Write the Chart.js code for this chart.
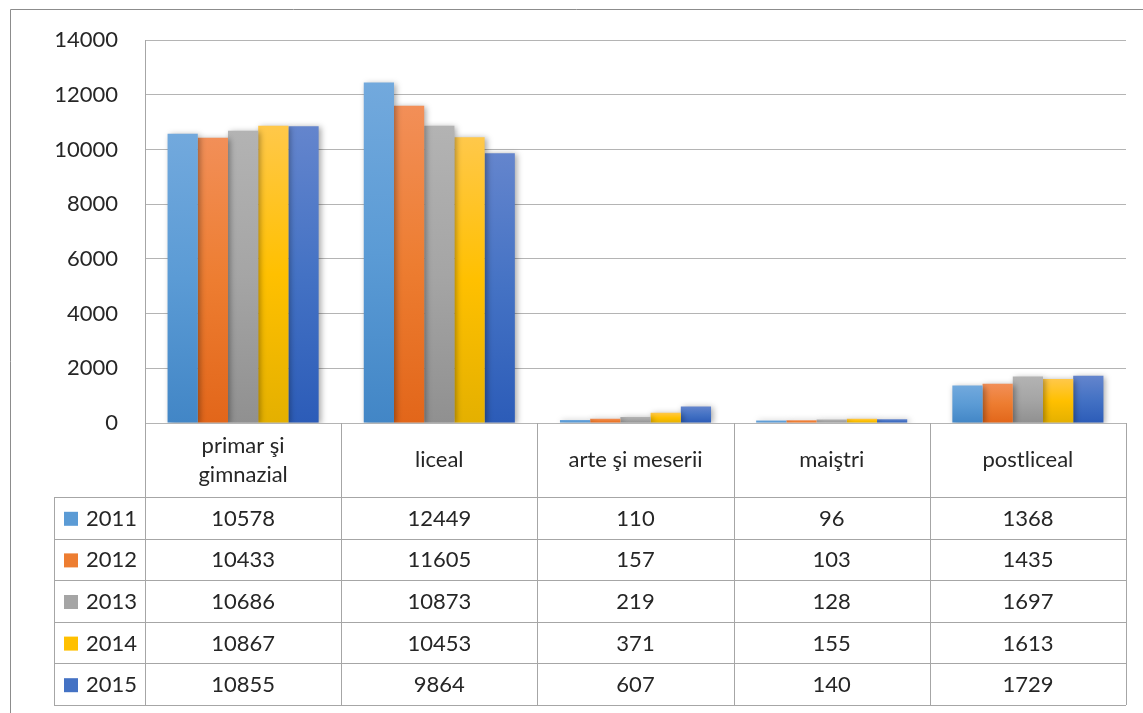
<!DOCTYPE html>
<html>
<head>
<meta charset="utf-8">
<script src="https://cdn.jsdelivr.net/npm/chart.js@4.4.1/dist/chart.umd.min.js"></script>
<style>
  html, body { margin: 0; padding: 0; background: #fff; }
  #wrap { position: relative; width: 1143px; height: 713px; }
</style>
</head>
<body>
<div id="wrap"><canvas id="chart" width="1143" height="713"></canvas></div>
<script>
// Data
const categories = [['primar şi', 'gimnazial'], 'liceal', 'arte şi meserii', 'maiştri', 'postliceal'];
const years = ['2011', '2012', '2013', '2014', '2015'];
const v2011 = [10578, 12449, 110, 96, 1368];
const v2012 = [10433, 11605, 157, 103, 1435];
const v2013 = [10686, 10873, 219, 128, 1697];
const v2014 = [10867, 10453, 371, 155, 1613];
const v2015 = [10855, 9864, 607, 140, 1729];
const yMax = 14000;
const yStep = 2000;

// top / mid / bottom shades per series
const shades = [
  ['#72a9dd', '#5b9bd5', '#4286c6'],
  ['#f28f58', '#ed7d31', '#e2661a'],
  ['#b3b3b3', '#a5a5a5', '#909090'],
  ['#ffc84a', '#ffc000', '#e4b000'],
  ['#6485cd', '#4472c4', '#2c5cb8']
];
const FONT = 'Lato, "Open Sans", sans-serif';
const TEXT = '#262626';
const GRID = '#b4b4b4';

function barFill(i) {
  return (c) => {
    const chart = c.chart;
    if (!chart.chartArea || c.parsed == null) return shades[i][1];
    const yScale = chart.scales.y;
    const top = yScale.getPixelForValue(c.parsed.y);
    const bottom = yScale.getPixelForValue(0);
    const g = chart.ctx.createLinearGradient(0, top, 0, Math.max(bottom, top + 1));
    g.addColorStop(0, shades[i][0]);
    g.addColorStop(0.5, shades[i][1]);
    g.addColorStop(1, shades[i][2]);
    return g;
  };
}

const seriesValues = [v2011, v2012, v2013, v2014, v2015];

// soft drop shadow behind the bars
const shadowPlugin = {
  id: 'barShadow',
  beforeDatasetsDraw(chart) {
    const ctx = chart.ctx;
    ctx.save();
    ctx.shadowColor = 'rgba(0,0,0,0.35)';
    ctx.shadowBlur = 6;
    ctx.shadowOffsetX = 2;
    ctx.shadowOffsetY = 1;
  },
  afterDatasetsDraw(chart) {
    chart.ctx.restore();
  }
};

// outer frame + data table under the plot
const tablePlugin = {
  id: 'dataTable',
  afterDraw(chart) {
    const ctx = chart.ctx;
    const x = chart.scales.x;
    const area = chart.chartArea;
    const colW = x.width / categories.length;
    const headerTop = area.bottom;
    const headerH = 74;
    const rowH = 41.6;
    const rowsTop = headerTop + headerH;
    const legendLeft = 54;

    ctx.save();
    // outer chart frame
    ctx.strokeStyle = '#8c8c8c';
    ctx.lineWidth = 1;
    ctx.beginPath();
    ctx.moveTo(10.5, 713);
    ctx.lineTo(10.5, 9.5);
    ctx.lineTo(1143, 9.5);
    ctx.stroke();

    ctx.strokeStyle = '#a6a6a6';
    ctx.lineWidth = 1;
    // vertical lines
    for (let i = 0; i <= categories.length; i++) {
      const px = Math.round(area.left + i * colW) + 0.5;
      ctx.beginPath();
      ctx.moveTo(px, headerTop);
      ctx.lineTo(px, rowsTop + rowH * years.length);
      ctx.stroke();
    }
    ctx.beginPath();
    ctx.moveTo(legendLeft + 0.5, rowsTop);
    ctx.lineTo(legendLeft + 0.5, rowsTop + rowH * years.length);
    ctx.stroke();
    // horizontal lines
    for (let r = 0; r <= years.length; r++) {
      const py = Math.round(rowsTop + r * rowH) + 0.5;
      ctx.beginPath();
      ctx.moveTo(legendLeft, py);
      ctx.lineTo(area.right, py);
      ctx.stroke();
    }

    ctx.fillStyle = TEXT;
    ctx.font = '22px ' + FONT;
    ctx.textAlign = 'center';
    ctx.textBaseline = 'middle';
    // header labels
    categories.forEach((lab, i) => {
      const cx = x.getPixelForValue(i);
      const lines = Array.isArray(lab) ? lab : [lab];
      const lh = 29;
      const cy = headerTop + headerH / 2;
      lines.forEach((t, k) => {
        ctx.fillText(t, cx, cy + (k - (lines.length - 1) / 2) * lh);
      });
    });
    // rows
    years.forEach((yr, r) => {
      const cy = rowsTop + r * rowH + rowH / 2 + 1;
      ctx.fillStyle = shades[r][1];
      ctx.fillRect(legendLeft + 10, cy - 7, 14, 14);
      ctx.fillStyle = TEXT;
      ctx.textAlign = 'left';
      ctx.fillText(yr, legendLeft + 32, cy);
      ctx.textAlign = 'center';
      seriesValues[r].forEach((v, i) => {
        ctx.fillText(String(v), x.getPixelForValue(i), cy);
      });
    });
    ctx.restore();
  }
};

new Chart(document.getElementById('chart'), {
  type: 'bar',
  data: {
    labels: categories,
    datasets: years.map((yr, i) => ({
      label: yr,
      data: seriesValues[i],
      backgroundColor: barFill(i),
      borderWidth: 0,
      categoryPercentage: 0.77,
      barPercentage: 1.0
    }))
  },
  options: {
    responsive: false,
    animation: false,
    layout: { padding: { left: 10, top: 39, right: 17, bottom: 290 } },
    plugins: {
      legend: { display: false },
      tooltip: { enabled: false }
    },
    scales: {
      x: { display: false },
      y: {
        min: 0,
        max: yMax,
        afterFit(scale) { scale.width = 135; },
        ticks: {
          stepSize: yStep,
          padding: 27,
          color: TEXT,
          font: { family: FONT, size: 22 },
          callback: (v) => String(v)
        },
        grid: { color: GRID, lineWidth: 1, drawTicks: false },
        border: { display: true, color: '#a6a6a6' }
      }
    }
  },
  plugins: [shadowPlugin, tablePlugin]
});
</script>
</body>
</html>
